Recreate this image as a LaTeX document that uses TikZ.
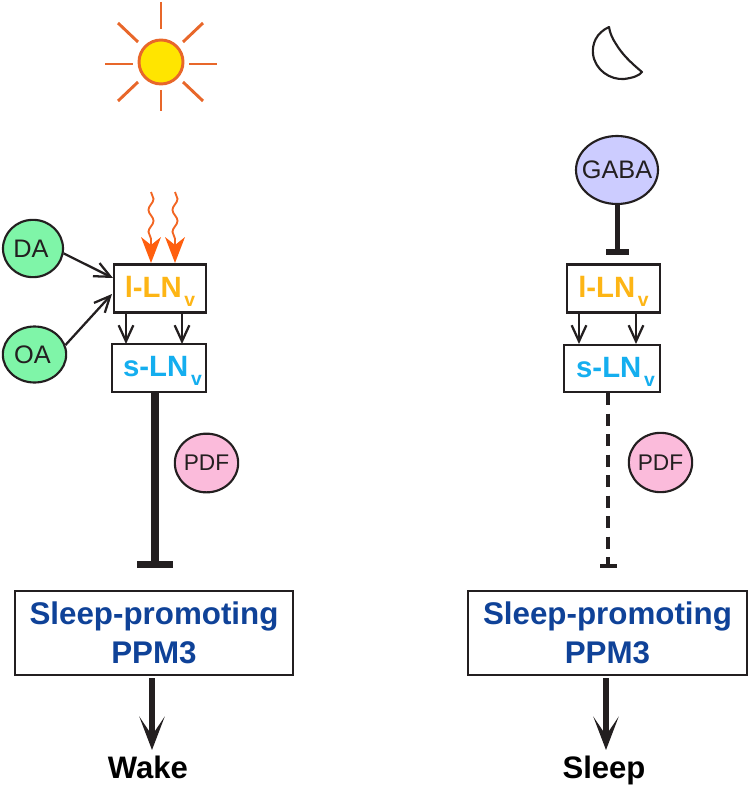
\documentclass[tikz,border=0pt]{standalone}
\usepackage{fontspec}
\setmainfont{Liberation Sans}
\usetikzlibrary{arrows.meta,decorations.pathmorphing,shapes.geometric}
\definecolor{ink}{HTML}{231F20}
\definecolor{sunor}{HTML}{E8672A}
\definecolor{sunye}{HTML}{FFE500}
\definecolor{wavy}{HTML}{F26522}
\definecolor{heador}{HTML}{FF5F0F}
\definecolor{grn}{HTML}{7FF5A8}
\definecolor{lav}{HTML}{CCCCFF}
\definecolor{pnk}{HTML}{FBBBDB}
\definecolor{ylab}{HTML}{FDB515}
\definecolor{clab}{HTML}{14AEEF}
\definecolor{blab}{HTML}{0F4298}
\tikzset{
  x=0.75pt,y=-0.75pt,
  sig/.style={ellipse,draw=ink,line width=1.6pt,inner sep=0pt,font=\fontsize{19}{19}\selectfont,text=ink},
  lnbox/.style={rectangle,draw=ink,fill=white,line width=1.7pt,inner sep=0pt,font=\bfseries\fontsize{22}{22}\selectfont},
  ppmbox/.style={rectangle,draw=ink,fill=white,line width=1.7pt,inner sep=0pt,align=center,text=blab,font=\bfseries\fontsize{23.5}{29}\selectfont},
  outlab/.style={inner sep=0pt,anchor=base,text=black,font=\bfseries\fontsize{23.3}{23.3}\selectfont},
  ray/.style={draw=sunor,line width=2.2pt},
  thinarrow/.style={draw=ink,line width=1.7pt,-{Straight Barb[length=12pt,width=11pt,line width=1.7pt]}},
  fatarrow/.style={draw=ink,line width=3.8pt,-{Stealth[length=25pt,width=19pt,inset=14pt]}},
  wavyline/.style={draw=wavy,line width=1.4pt,decorate,decoration={snake,amplitude=1.9pt,segment length=16.5pt}},
  orhead/.style={fill=heador,draw=none},
}
\newcommand{\lnv}[2]{\smash{\raisebox{-6.4pt}{\textcolor{#1}{#2-LN\kern2pt\raisebox{-7pt}{\fontsize{14.5}{14.5}\selectfont v}}}}}
\newcommand{\zt}[1]{\makebox[0pt]{#1}}
\begin{document}
\begin{tikzpicture}
\useasboundingbox (0,0) rectangle (750,788);
% sun
\node[circle,draw=sunor,fill=sunye,line width=2.2pt,minimum size=33pt,inner sep=0pt] (sun) at (161,62) {};
\coordinate (r1a) at (161,2);\coordinate (r1b) at (161,29);
\coordinate (r2a) at (161,90);\coordinate (r2b) at (161,111);
\coordinate (r3a) at (105,64);\coordinate (r3b) at (133,64);
\coordinate (r4a) at (189,64);\coordinate (r4b) at (217,64);
\coordinate (r5a) at (118,23);\coordinate (r5b) at (138,42);
\coordinate (r6a) at (203,23);\coordinate (r6b) at (183,42);
\coordinate (r7a) at (138,82);\coordinate (r7b) at (118,101);
\coordinate (r8a) at (183,82);\coordinate (r8b) at (203,101);
\foreach \k in {1,...,8}{\draw[ray] (r\k a) -- (r\k b);}
% moon
\draw[draw=ink,line width=1.6pt,fill=white,line join=round]
  (609,27) .. controls (596,33) and (592,44) .. (593,54)
  .. controls (595,70) and (610,80) .. (624,79)
  .. controls (632,78) and (639,76) .. (642,72)
  .. controls (630,62) and (622,54) .. (616,44)
  .. controls (612,38) and (610,33) .. (609,27) -- cycle;
% left side
\node[sig,fill=grn,minimum width=45pt,minimum height=43pt] (da) at (33,248.5) {\zt{\kern-3pt DA}};
\node[sig,fill=grn,minimum width=47.5pt,minimum height=42pt] (oa) at (34.5,354.5) {\zt{\kern-3pt OA}};
\node[lnbox,minimum width=69pt,minimum height=36pt] (l1) at (160,288.5) {\lnv{ylab}{l}};
\node[lnbox,minimum width=70.5pt,minimum height=35.5pt] (s1) at (159,368) {\kern5.2pt\lnv{clab}{s}};
\coordinate (dae) at (113,278);\coordinate (oae) at (112,294);
\draw[thinarrow] (da.-9) -- (dae);
\draw[thinarrow] (oa.17) -- (oae);
\coordinate (la1) at (126,313);\coordinate (lb1) at (126,344);
\coordinate (la2) at (182,313);\coordinate (lb2) at (182,344);
\draw[thinarrow] (la1) -- (lb1);
\draw[thinarrow] (la2) -- (lb2);
\foreach \xx in {151,175}{
  \coordinate (wt) at (\xx,192);\coordinate (wb) at (\xx,245);
  \draw[wavyline] (wt) -- (wb);
  \fill[orhead] (\xx,263) -- (\xx-10,237) -- (\xx,245) -- (\xx+10,237) -- cycle;
}
\node[ppmbox,minimum width=209pt,minimum height=63.5pt] (p1) at (154,633) {Sleep-promoting\\PPM3};
\coordinate (i1a) at (155,392);\coordinate (i1b) at (155,565);
\draw[draw=ink,line width=6.2pt] (i1a) -- (i1b);
\coordinate (b1a) at (137,564.5);\coordinate (b1b) at (173,564.5);
\draw[draw=ink,line width=5.4pt] (b1a) -- (b1b);
\node[sig,fill=pnk,minimum width=47.5pt,minimum height=44pt,font=\fontsize{17}{17}\selectfont] (pdf1) at (206.5,463) {\zt{PDF}};
\node[outlab] (wake) at (148,778) {Wake};
\coordinate (s1e) at (152,678);\coordinate (e1) at (152,750);
\draw[fatarrow] (s1e) -- (e1);
% right side
\node[sig,fill=lav,minimum width=61.5pt,minimum height=51pt] (gaba) at (617,170) {\zt{GABA}};
\node[lnbox,minimum width=69.8pt,minimum height=36pt] (l2) at (613.5,288.5) {\lnv{ylab}{l}};
\node[lnbox,minimum width=72pt,minimum height=35.5pt] (s2) at (612,368.5) {\kern5.2pt\lnv{clab}{s}};
\coordinate (g2) at (617,252);
\draw[draw=ink,line width=3.75pt] (gaba) -- (g2);
\coordinate (g2a) at (606,252);\coordinate (g2b) at (629,252);
\draw[draw=ink,line width=4.4pt] (g2a) -- (g2b);
\coordinate (la3) at (579,313);\coordinate (lb3) at (579,344);
\coordinate (la4) at (636,313);\coordinate (lb4) at (636,344);
\draw[thinarrow] (la3) -- (lb3);
\draw[thinarrow] (la4) -- (lb4);
\node[ppmbox,minimum width=209.5pt,minimum height=63.5pt] (p2) at (607.5,633) {Sleep-promoting\\PPM3};
\coordinate (i2a) at (608,393);\coordinate (i2b) at (608,566);
\draw[draw=ink,line width=3.2pt,dash pattern=on 9.2pt off 6.2pt] (i2a) -- (i2b);
\coordinate (b2a) at (600,566);\coordinate (b2b) at (617,566);
\draw[draw=ink,line width=3pt] (b2a) -- (b2b);
\node[sig,fill=pnk,minimum width=47.5pt,minimum height=44.5pt,font=\fontsize{17}{17}\selectfont] (pdf2) at (660.5,462.5) {\zt{PDF}};
\node[outlab] (sleep) at (604,778) {Sleep};
\coordinate (s2e) at (606,678);\coordinate (e2) at (606,750);
\draw[fatarrow] (s2e) -- (e2);
\end{tikzpicture}
\end{document}
